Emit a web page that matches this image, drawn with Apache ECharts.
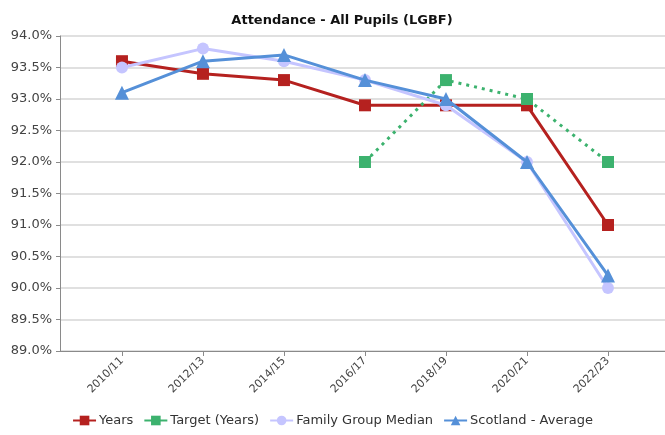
<!DOCTYPE html>
<html>
<head>
<meta charset="utf-8">
<script src="https://cdn.jsdelivr.net/npm/echarts@6/dist/echarts.min.js"></script>
<style>
  html, body { margin: 0; padding: 0; background: #fff; }
  #chart { width: 665px; height: 435px; }
</style>
</head>
<body>
<div id="chart"></div>
<script>
// School years shown along the x axis
const years = ['2010/11', '2012/13', '2014/15', '2016/17', '2018/19', '2020/21', '2022/23'];

// Attendance rates (%)
const pupilYears = [93.6, 93.4, 93.3, 92.9, 92.9, 92.9, 91.0];
const targetYears = [null, null, null, 92.0, 93.3, 93.0, 92.0];
const familyMedian = [93.5, 93.8, 93.6, 93.3, 92.9, 92.0, 90.0];
const scotlandAvg = [93.1, 93.6, 93.7, 93.3, 93.0, 92.0, 90.2];

const seriesNames = ['Years', 'Target (Years)', 'Family Group Median', 'Scotland - Average'];

const FONT = 'DejaVu Sans';
const idx = years.map((_, i) => i);
const pairs = arr => arr.map((v, i) => [i, v]);

const chart = echarts.init(document.getElementById('chart'), null, { renderer: 'canvas' });

chart.setOption({
  animation: false,
  backgroundColor: '#ffffff',
  title: {
    text: 'Attendance - All Pupils (LGBF)',
    left: 337,
    textAlign: 'center',
    top: 9,
    textStyle: { fontFamily: FONT, fontSize: 13, fontWeight: 'bold', color: '#111' }
  },
  grid: { left: 60, right: 0, top: 36, bottom: 84, containLabel: false },
  xAxis: {
    type: 'value',
    min: -0.765,
    max: 6.704,
    splitLine: { show: false },
    axisLine: { show: true, onZero: false, lineStyle: { color: '#8a8a8a', width: 1 } },
    axisTick: { show: true, customValues: idx, length: 5, lineStyle: { color: '#8a8a8a' } },
    axisLabel: {
      customValues: idx,
      rotate: 45,
      margin: 8,
      fontFamily: FONT,
      fontSize: 11,
      color: '#444',
      formatter: v => years[Math.round(v)]
    }
  },
  yAxis: {
    type: 'value',
    min: 89,
    max: 94,
    interval: 0.5,
    axisLine: { show: true, onZero: false, lineStyle: { color: '#8a8a8a', width: 1 } },
    axisTick: { show: true, length: 4, lineStyle: { color: '#8a8a8a' } },
    splitLine: { show: true, lineStyle: { color: '#e0e0e0', width: 2 } },
    axisLabel: {
      margin: 8,
      fontFamily: FONT,
      fontSize: 13,
      color: '#444',
      formatter: v => v.toFixed(1) + '%'
    }
  },
  legend: {
    bottom: 3,
    left: 'center',
    itemWidth: 23,
    itemHeight: 12,
    itemGap: 10,
    textStyle: { fontFamily: FONT, fontSize: 13, color: '#333', padding: [0, 0, 0, -2] },
    data: seriesNames.map(name => ({ name, lineStyle: { type: 'solid' } }))
  },
  series: [
    {
      name: seriesNames[0],
      type: 'line',
      data: pairs(pupilYears),
      symbol: 'rect',
      symbolSize: 12,
      color: '#b5211f',
      lineStyle: { width: 3, color: '#b5211f' },
      itemStyle: { color: '#b5211f' },
      z: 2
    },
    {
      name: seriesNames[1],
      type: 'line',
      data: pairs(targetYears),
      connectNulls: false,
      symbol: 'rect',
      symbolSize: 12,
      color: '#3cb26e',
      lineStyle: { width: 3, type: [3, 5], color: '#3cb26e' },
      itemStyle: { color: '#3cb26e' },
      z: 3
    },
    {
      name: seriesNames[2],
      type: 'line',
      data: pairs(familyMedian),
      symbol: 'circle',
      symbolSize: 12,
      color: '#c5c5ff',
      lineStyle: { width: 3, color: '#c5c5ff' },
      itemStyle: { color: '#c5c5ff' },
      z: 4
    },
    {
      name: seriesNames[3],
      type: 'line',
      data: pairs(scotlandAvg),
      symbol: 'triangle',
      symbolSize: 14,
      color: '#5590d8',
      lineStyle: { width: 3, color: '#5590d8' },
      itemStyle: { color: '#5590d8' },
      z: 5
    }
  ]
});
</script>
</body>
</html>
